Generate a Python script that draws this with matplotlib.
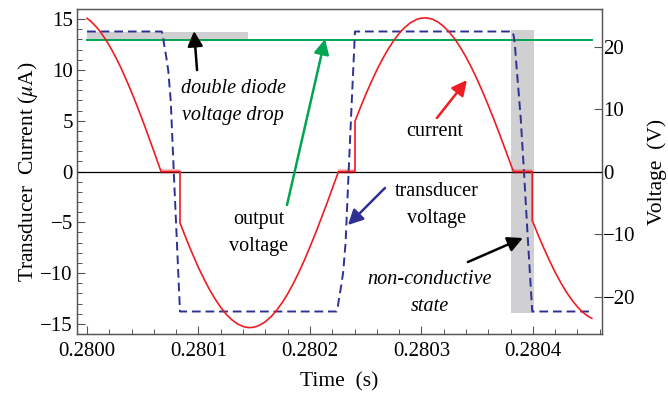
"""
Transducer current / voltage around the non-conductive states of the rectifier.
Saves out.png (668 x 393 px).
"""

import matplotlib
matplotlib.use("Agg")
import matplotlib.pyplot as plt
from matplotlib.ticker import MultipleLocator, FixedLocator

# ── Data ─────────────────────────────────────────────────────────────────────
T0 = 0.28
# time offsets in microseconds from 0.28 s
current_us = [0, 3, 6, 9, 12, 15, 18, 21, 24, 27, 30, 33, 36, 39, 42, 45, 48,
              51, 54, 57, 60, 63, 66.4,
              83.4, 83.4, 90, 95, 100, 105, 110, 115, 120, 125, 130, 135, 140,
              143, 146, 149, 152, 156, 160, 165, 170, 175, 180, 185, 190, 195,
              200, 205, 210, 215, 220, 225.6,
              240.4, 240.4, 245, 250, 255, 260, 265, 270, 275, 280, 285, 290,
              296, 299, 303, 306, 310, 315, 320, 325, 330, 335, 340, 345, 350,
              355, 360, 365, 370, 374, 378, 382.5,
              399.4, 399.4, 405, 410, 415, 420, 425, 430, 435, 440, 445, 449,
              452.9]
current_ua = [15.08, 14.83, 14.51, 14.15, 13.73, 13.27, 12.76, 12.21, 11.61,
              10.97, 10.30, 9.58, 8.83, 8.05, 7.25, 6.42, 5.57, 4.69, 3.80,
              2.89, 1.98, 1.04, 0.0,
              0.0, -5.06, -6.90, -8.22, -9.47, -10.60, -11.65, -12.57, -13.39,
              -14.08, -14.61, -15.01, -15.26, -15.34, -15.37, -15.34, -15.26,
              -15.07, -14.79, -14.30, -13.68, -12.92, -12.05, -11.04, -9.93,
              -8.73, -7.42, -6.08, -4.64, -3.20, -1.69, 0.0,
              0.0, 4.95, 6.23, 7.57, 8.82, 9.99, 11.06, 12.02, 12.87, 13.60,
              14.18, 14.63, 14.99, 15.08, 15.13, 15.10, 14.99, 14.71, 14.28,
              13.72, 13.03, 12.21, 11.26, 10.22, 9.06, 7.82, 6.51, 5.13, 3.71,
              2.53, 1.35, 0.0,
              0.0, -4.81, -6.33, -7.60, -8.80, -9.93, -10.94, -11.86, -12.66,
              -13.33, -13.88, -14.22, -14.46]

transducer_us = [0, 67.0, 68.0, 69.1, 71.0, 72.9, 75.1, 77.8, 80.6, 83.4,
                 223.9, 224.9, 226.0, 227.9, 229.8, 232.0, 234.7, 237.5, 240.4,
                 381.8, 383.0, 384.2, 385.4, 387.2, 389.0, 392.0, 395.6, 399.4,
                 452.9]
transducer_v = [22.4, 22.4, 21.8, 20.4, 18.4, 16.1, 11.3, 0.0, -11.2, -22.4,
                -22.4, -21.8, -20.4, -18.4, -16.1, -11.3, 0.0, 11.2, 22.4,
                22.4, 21.5, 19.5, 16.6, 12.7, 8.7, 0.0, -11.2, -22.4,
                -22.4]

output_us = [0, 452.9]
output_v = [21.0, 21.0]

# zero-current intervals (us)
zero_us = [(66.4, 83.4), (225.6, 240.4), (382.5, 399.4)]

# grey boxes: diode drop (us range, V range) and non-conductive state
drop_box = ((0, 144.4), (21.2, 22.4))
nc_box = ((380.3, 401.2), (-22.7, 22.6))

x_ticks = [0.2800, 0.2801, 0.2802, 0.2803, 0.2804]
left_ticks = [-15, -10, -5, 0, 5, 10, 15]
right_ticks = [-20, -10, 0, 10, 20]

I_LIM = 16
V_LIM = 26


def to_t(us):
    return [T0 + u * 1e-6 for u in us]


# ── Style ────────────────────────────────────────────────────────────────────
plt.rcParams["font.family"] = ["Liberation Serif", "DejaVu Serif"]
plt.rcParams["mathtext.fontset"] = "stix"

RED = "#ee1d23"
BLUE = "#2e3192"
GREEN = "#00a651"
GREY = "#d0d0d2"
AX = "#555555"
FS_TICK = 15
FS_LABEL = 15.5
FS_NOTE = 14.5

fig = plt.figure(figsize=(6.68, 3.93), dpi=100)
ax = fig.add_axes([77 / 668, 1 - 334 / 393, (602 - 77) / 668, (334 - 9) / 393])
ax2 = ax.twinx()

ax.set_xlim(T0 - 9.0e-6, T0 + 462.0e-6)
ax.set_ylim(-I_LIM, I_LIM)
ax2.set_ylim(-V_LIM, V_LIM)

# grey highlight boxes (voltage axis)
for (b0, b1), (v0, v1) in (drop_box, nc_box):
    ax2.fill_between(to_t([b0, b1]), v0, v1, color=GREY, lw=0, zorder=1)

ax2.axhline(0, color="black", lw=0.9, zorder=2)

for a, b in zero_us:
    ax2.fill_between(to_t([a, b]), -0.45, 0.45, color=RED, alpha=0.25, lw=0, zorder=3)

ax2.plot(to_t(output_us), output_v, color=GREEN, lw=1.4, zorder=4)
ax2.plot(to_t(transducer_us), transducer_v, color=BLUE, lw=1.4,
         dashes=(4.5, 2.5), zorder=5)
ax2.plot(to_t(current_us), [c * V_LIM / I_LIM for c in current_ua], color=RED,
         lw=1.2, zorder=6)

# ── Ticks / spines ───────────────────────────────────────────────────────────
ax.xaxis.set_major_locator(FixedLocator(x_ticks))
ax.xaxis.set_minor_locator(MultipleLocator(0.00002))
ax.set_xticklabels([f"{t:.4f}" for t in x_ticks])
ax.yaxis.set_major_locator(FixedLocator(left_ticks))
ax.yaxis.set_minor_locator(MultipleLocator(1))
ax2.yaxis.set_major_locator(FixedLocator(right_ticks))

for a in (ax, ax2):
    a.tick_params(which="major", direction="in", length=6, width=0.8,
                  color=AX, labelsize=FS_TICK)
    a.tick_params(which="minor", direction="in", length=3.5, width=0.7, color=AX)
    for s in a.spines.values():
        s.set_color(AX)
        s.set_linewidth(0.9)
ax.tick_params(axis="x", which="both", top=False, pad=6)
ax.tick_params(axis="y", which="both", right=False, pad=3)
ax2.tick_params(axis="y", pad=1)

ax.set_xlabel("Time  (s)", fontsize=FS_LABEL, labelpad=8)
ax.set_ylabel(r"Transducer  Current ($\mu$A)", fontsize=FS_LABEL, labelpad=0)
ax2.set_ylabel("Voltage  (V)", fontsize=FS_LABEL, labelpad=8)

# ── Annotations (drawn on ax2 so they sit above the grey boxes) ──────────────
ARROW = dict(arrowstyle="-|>,head_length=0.75,head_width=0.38", lw=1.8,
             mutation_scale=12, shrinkA=0, shrinkB=0)


def label(x_us, y, text, italic=False):
    ax2.text(T0 + x_us * 1e-6, y, text, transform=ax.transData,
             ha="center", va="center", fontsize=FS_NOTE, linespacing=1.6,
             style="italic" if italic else "normal", zorder=10)


def arrow(tail, head, color):
    ax2.annotate("", xy=(T0 + head[0] * 1e-6, head[1]),
                 xytext=(T0 + tail[0] * 1e-6, tail[1]),
                 xycoords=ax.transData, textcoords=ax.transData, zorder=10,
                 arrowprops=dict(ARROW, color=color))


label(130.9, 6.84, "double diode\nvoltage drop", italic=True)
arrow((98.7, 9.99), (96.0, 13.83), "black")

label(154.3, -6.05, "output\nvoltage")
arrow((179.4, -3.30), (213.5, 13.04), GREEN)

label(312.1, 3.89, "current")
arrow((313.9, 5.27), (340.8, 9.0), RED)

label(313.9, -3.30, "transducer\nvoltage")
arrow((267.3, -1.62), (234.1, -5.27), BLUE)

label(307.6, -11.96, "non-conductive\nstate", italic=True)
arrow((341.7, -8.91), (391.0, -6.55), "black")

fig.savefig("out.png", dpi=100)
